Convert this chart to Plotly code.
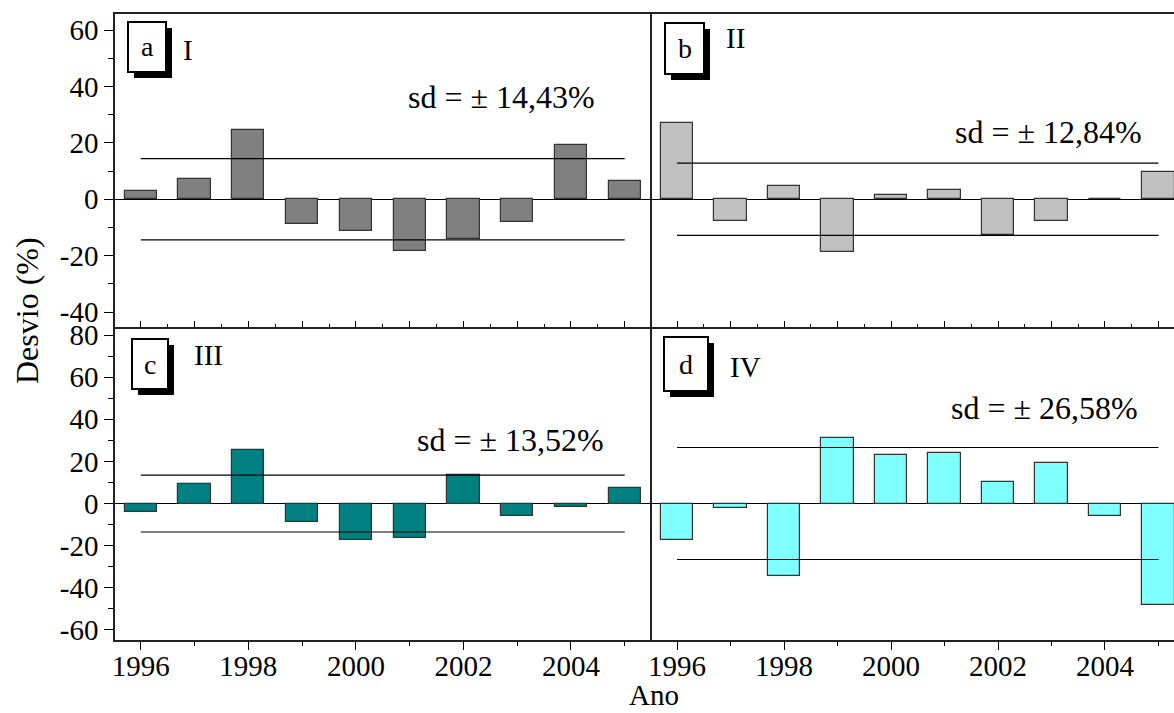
import plotly.graph_objects as go
from plotly.subplots import make_subplots

# ---- data ----
years = [1996, 1997, 1998, 1999, 2000, 2001, 2002, 2003, 2004, 2005]
dev_I = [2.8, 7.3, 24.4, -8.7, -11.4, -18.4, -14.2, -8.2, 19.3, 6.5]
dev_II = [26.9, -7.8, 4.6, -18.8, 1.4, 3.2, -12.8, -7.8, 0.0, 9.5]
dev_III = [-4.0, 9.3, 25.2, -8.9, -17.1, -16.4, 13.6, -5.9, -1.6, 7.3]
dev_IV = [-17.1, -2.1, -34.4, 30.9, 22.8, 23.9, 10.4, 19.0, -5.9, -48.2]
sd_values = [14.43, 12.84, 13.52, 26.58]
panel_letters = ["a", "b", "c", "d"]
panel_names = ["I", "II", "III", "IV"]
bar_colors = ["#808080", "#C0C0C0", "#008080", "#80FFFF"]
series = [dev_I, dev_II, dev_III, dev_IV]
yticks_top = [-40, -20, 0, 20, 40, 60]
yticks_bottom = [-60, -40, -20, 0, 20, 40, 60, 80]
yticktext_top = ["-40", "-20", "0", "20", "40", "60"]
yticktext_bottom = ["-60", "-40", "-20", "0", "20", "40", "60", "80"]

W, H = 1174, 713
ML, MR, MT, MB = 115, 0, 14, 73
PW, PH = W - ML - MR, H - MT - MB
FONT = "Liberation Serif, Times New Roman, Times, DejaVu Serif, serif"

def px2paper(x, y):
    return (x - ML) / PW, (H - MB - y) / PH

fig = make_subplots(rows=2, cols=2, horizontal_spacing=0, vertical_spacing=0,
                    column_widths=[535, 524], row_heights=[0.5, 0.5])

cells = [(1, 1), (1, 2), (2, 1), (2, 2)]
for i, (r, c) in enumerate(cells):
    fig.add_trace(go.Bar(x=years, y=series[i], width=0.6,
                         marker=dict(color=bar_colors[i],
                                     line=dict(color="#333333", width=1.2)),
                         showlegend=False, hoverinfo="skip"), row=r, col=c)
    s = sd_values[i]
    fig.add_trace(go.Scatter(x=[years[0], years[-1], None, years[0], years[-1]],
                             y=[s, s, None, -s, -s], mode="lines",
                             line=dict(color="black", width=1.2),
                             showlegend=False, hoverinfo="skip"), row=r, col=c)

tickfont = dict(family=FONT, size=29, color="black")
xl_range = [1995.52, 2005.47]
xr_range = [1995.495, 2005.29]
yt_range = [-45.3, 65.7]
yb_range = [-64.8, 83.8]

LINEC = "#222222"
common_x = dict(showline=True, linecolor=LINEC, linewidth=1.5, showgrid=False,
                zeroline=False, tick0=1996, tickcolor="black", tickfont=tickfont)
top_x = dict(common_x, mirror=True, ticks="inside", dtick=1, ticklen=6, tickwidth=1,
             showticklabels=False,
             minor=dict(ticks="inside", dtick=0.5, tick0=1996, ticklen=3,
                        tickcolor="black", showgrid=False))
bot_x = dict(common_x, mirror=False, ticks="outside", dtick=2, ticklen=8, tickwidth=1,
             showticklabels=True, ticklabelstandoff=-9,
             minor=dict(ticks="outside", dtick=1, tick0=1996, ticklen=4,
                        tickcolor="black", showgrid=False))
fig.update_layout(
    xaxis=dict(top_x, range=xl_range),
    xaxis2=dict(top_x, range=xr_range),
    xaxis3=dict(bot_x, range=xl_range),
    xaxis4=dict(bot_x, range=xr_range),
)

left_y = dict(showline=True, linecolor=LINEC, linewidth=1.5, mirror=True,
              showgrid=False, zeroline=True, zerolinecolor="black", zerolinewidth=1.2,
              ticks="outside", ticklen=9, tickwidth=1,
              tickcolor="black", tickfont=tickfont,
              minor=dict(ticks="outside", dtick=10, tick0=0, ticklen=5,
                         tickcolor="black", showgrid=False))
right_y = dict(showline=False, mirror=False,
               showgrid=False, zeroline=True, zerolinecolor="black", zerolinewidth=1.2,
               ticks="", showticklabels=False)
fig.update_layout(
    yaxis=dict(left_y, range=yt_range, tickmode="array", tickvals=yticks_top,
               ticktext=yticktext_top),
    yaxis2=dict(right_y, range=yt_range),
    yaxis3=dict(left_y, range=yb_range, tickmode="array", tickvals=yticks_bottom,
                ticktext=yticktext_bottom),
    yaxis4=dict(right_y, range=yb_range),
)

# label boxes (pixel positions of boxes, numerals and sd text)
boxes = [(128, 22, 166, 72), (665, 23, 704, 74), (132, 339, 168, 389), (664, 337, 708, 391)]
numeral_pos = [(188, 50), (735, 38), (208, 355), (745, 367)]
sd_pos = [(501, 97), (1048, 132), (510, 440), (1044, 408)]
shapes = []
annotations = []
for i in range(4):
    x0, y0, x1, y1 = boxes[i]
    off = 6
    a0 = px2paper(x0 + off, y0 + off)
    a1 = px2paper(x1 + off, y1 + off)
    shapes.append(dict(type="rect", xref="paper", yref="paper",
                       x0=a0[0], y0=a1[1], x1=a1[0], y1=a0[1],
                       fillcolor="black", line=dict(width=0)))
    b0 = px2paper(x0, y0)
    b1 = px2paper(x1, y1)
    shapes.append(dict(type="rect", xref="paper", yref="paper",
                       x0=b0[0], y0=b1[1], x1=b1[0], y1=b0[1],
                       fillcolor="white", line=dict(color="black", width=2)))
    cx, cy = px2paper((x0 + x1) / 2, (y0 + y1) / 2)
    annotations.append(dict(text=panel_letters[i], x=cx, y=cy, xref="paper", yref="paper",
                            showarrow=False, xanchor="center", yanchor="middle",
                            font=dict(family=FONT, size=28, color="black")))
    nx, ny = px2paper(*numeral_pos[i])
    annotations.append(dict(text=panel_names[i], x=nx, y=ny, xref="paper", yref="paper",
                            showarrow=False, xanchor="center", yanchor="middle",
                            font=dict(family=FONT, size=29, color="black")))
    sx, sy = px2paper(*sd_pos[i])
    annotations.append(dict(text="sd = \u00b1 %s%%" % ("%.2f" % sd_values[i]).replace(".", ","),
                            x=sx, y=sy, xref="paper", yref="paper",
                            showarrow=False, xanchor="center", yanchor="middle",
                            font=dict(family=FONT, size=32, color="black")))

tx, ty = px2paper(27, 311)
annotations.append(dict(text="Desvio (%)", x=tx, y=ty, xref="paper", yref="paper",
                        showarrow=False, textangle=-90, xanchor="center", yanchor="middle",
                        font=dict(family=FONT, size=32, color="black")))
ax_, ay_ = px2paper(654, 695)
annotations.append(dict(text="Ano", x=ax_, y=ay_, xref="paper", yref="paper",
                        showarrow=False, xanchor="center", yanchor="middle",
                        font=dict(family=FONT, size=29, color="black")))

fig.update_layout(width=W, height=H, margin=dict(l=ML, r=MR, t=MT, b=MB, pad=0),
                  paper_bgcolor="white", plot_bgcolor="white", bargap=0,
                  shapes=shapes, annotations=annotations, hovermode=False,
                  font=dict(family=FONT, color="black"))

fig.write_html("out.html", config={"displayModeBar": False},
               post_script="document.body.style.margin='0';document.body.style.overflow='hidden';")
